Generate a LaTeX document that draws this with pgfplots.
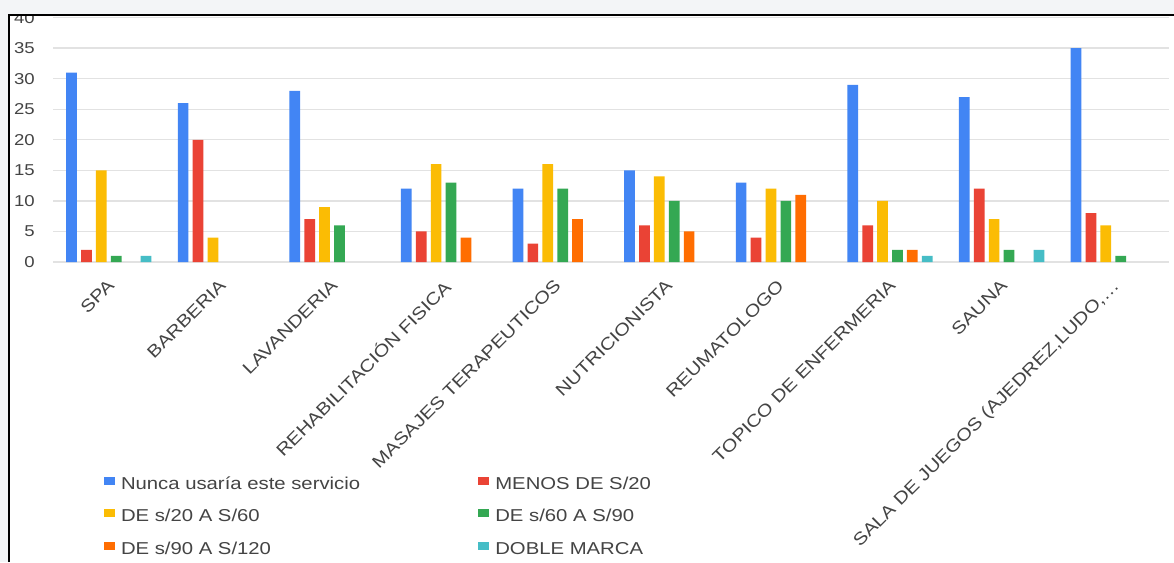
\documentclass[border=0pt]{standalone}
\usepackage{fontspec}
\setmainfont{Liberation Sans}[FakeStretch=1.18]
\usepackage{pgfplots}
\usepackage{pgfplotstable}
\pgfplotsset{compat=1.18}

\definecolor{cBlue}{HTML}{4285F4}
\definecolor{cRed}{HTML}{EA4335}
\definecolor{cYellow}{HTML}{FBBC04}
\definecolor{cGreen}{HTML}{34A853}
\definecolor{cOrange}{HTML}{FF6D01}
\definecolor{cCyan}{HTML}{46BDC6}
\definecolor{gridgray}{HTML}{E2E2E2}
\definecolor{labelgray}{HTML}{444444}
\definecolor{pagebg}{HTML}{F3F5F7}

% services (x) by price range
\pgfplotstableread{
x nunca menos d20a60 d60a90 d90a120 doble
0 31  2 15  1  0 1
1 26 20  4  0  0 0
2 28  7  9  6  0 0
3 12  5 16 13  4 0
4 12  3 16 12  7 0
5 15  6 14 10  5 0
6 13  4 12 10 11 0
7 29  6 10  2  2 1
8 27 12  7  2  0 2
9 35  8  6  1  0 0
}\servicios

\begin{document}
\begin{tikzpicture}
\path[use as bounding box] (0,0) rectangle (880.5pt,421.5pt);
\fill[white] (0,0) rectangle (880.5pt,421.5pt);
\begin{axis}[
  at={(39.75pt,225pt)}, anchor=south west,
  scale only axis, width=837pt, height=183.3pt,
  xmin=-0.5, xmax=9.5, ymin=0, ymax=40,
  ybar, bar width=0.096,
  axis line style={draw=none},
  major tick length=0pt,
  ymajorgrids, major grid style={line width=1pt, color=gridgray},
  ytick={0,5,...,40},
  xtick={0,...,9},
  xticklabels={SPA, BARBERIA, LAVANDERIA, REHABILITACIÓN FISICA, MASAJES TERAPEUTICOS, NUTRICIONISTA, REUMATOLOGO, TOPICO DE ENFERMERIA, SAUNA, {SALA DE JUEGOS (AJEDREZ,LUDO,…}},
  /pgf/number format/assume math mode=true,
  yticklabel style={anchor=east, inner sep=0pt, xshift=-13.5pt,
    font=\fontsize{11.8pt}{13pt}\selectfont, text=labelgray},
  xticklabel style={xshift=-1.5pt, yshift=-12pt, rotate=45,
    anchor=north east, inner sep=0pt,
    font=\fontsize{12.9pt}{14pt}\selectfont, text=labelgray},
  legend image code/.code={\fill[#1] (0pt,0pt) rectangle (8.25pt,6pt);},
  legend cell align=left,
  legend columns=2,
  legend style={at={(0.0457,-0.8756)}, anchor=north west,
    draw=none, fill=none, inner sep=0pt, outer sep=0pt,
    row sep=11.4pt, column sep=0pt,
    /tikz/every odd column/.append style={column sep=4.5pt},
    nodes={inner sep=0pt, text height=10pt, text depth=3pt},
    font=\fontsize{12.9pt}{14pt}\selectfont, text=labelgray},
  % empty cells draw no bar
  y filter/.expression={y==0 ? nan : y},
]
\addplot[fill=cBlue, draw=none, bar shift=-0.334] table[x=x, y=nunca] {\servicios};
\addlegendentry{\makebox[268pt][l]{Nunca usaría este servicio}}
\addplot[fill=cRed, draw=none, bar shift=-0.200] table[x=x, y=menos] {\servicios};
\addlegendentry{MENOS DE S/20}
\addplot[fill=cYellow, draw=none, bar shift=-0.067] table[x=x, y=d20a60] {\servicios};
\addlegendentry{\makebox[268pt][l]{DE s/20 A S/60}}
\addplot[fill=cGreen, draw=none, bar shift=0.067] table[x=x, y=d60a90] {\servicios};
\addlegendentry{DE s/60 A S/90}
\addplot[fill=cOrange, draw=none, bar shift=0.200] table[x=x, y=d90a120] {\servicios};
\addlegendentry{\makebox[268pt][l]{DE s/90 A S/120}}
\addplot[fill=cCyan, draw=none, bar shift=0.334] table[x=x, y=doble] {\servicios};
\addlegendentry{DOBLE MARCA}
\end{axis}
% page margin outside the framed chart
\fill[pagebg] (0,411pt) rectangle (880.5pt,421.5pt);
\fill[pagebg] (0,0) rectangle (6pt,411pt);
\draw[line width=1.5pt, black] (6.9pt,0) -- (6.9pt,410.25pt) -- (880.5pt,410.25pt);
\end{tikzpicture}
\end{document}
